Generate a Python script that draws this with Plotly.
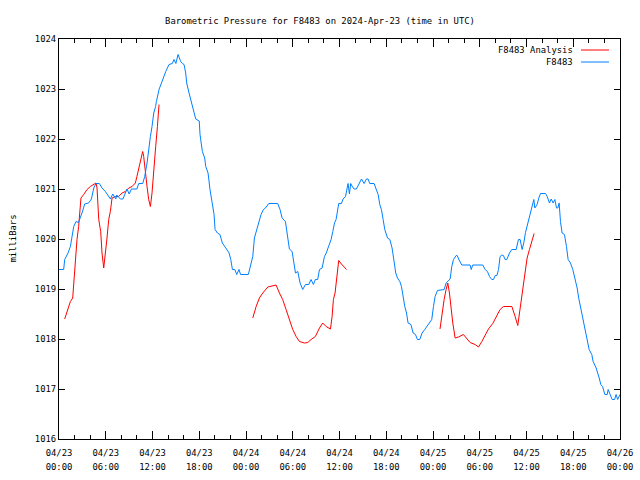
import pandas as pd
import plotly.graph_objects as go

# ---- data (hours since 2024-04-23 00:00 UTC, pressure in mbar) ----
obs_hours = [0.0, 0.6, 0.73, 1.16, 1.46, 1.89, 2.18, 2.5, 2.95, 3.3, 3.8, 4.16, 4.46, 4.75, 5.18, 5.52,
             5.95, 6.38, 6.6, 6.9, 7.3, 7.4, 7.88, 8.2, 8.73, 9.0, 9.3, 10.0, 10.23, 10.75, 11.0, 11.3,
             11.5, 11.73, 11.94, 12.16, 12.4, 12.5, 12.84, 13.27, 13.7, 14.12, 14.55, 14.76, 15.0, 15.28,
             15.62, 15.84, 16.05, 16.26, 16.39, 16.69, 17.0, 17.25, 17.55, 18.0, 18.1, 18.4, 18.7, 18.83,
             19.13, 19.38, 19.69, 19.9, 20.03, 20.33, 20.65, 20.97, 21.4, 21.83, 22.04, 22.26, 22.56, 22.81,
             23.1, 23.3, 24.3, 24.52, 24.87, 25.08, 25.38, 25.64, 25.93, 26.24, 26.5, 26.92, 28.07, 28.37,
             28.63, 29.06, 29.36, 29.57, 29.92, 30.09, 30.35, 30.65, 30.94, 31.28, 31.63, 32.06, 32.35, 32.65,
             32.9, 33.2, 33.43, 33.77, 34.07, 34.3, 34.62, 34.92, 35.14, 35.36, 35.56, 35.78, 35.9, 36.25,
             36.46, 36.77, 36.93, 37.1, 37.27, 37.44, 37.6, 37.87, 38.17, 38.47, 38.82, 39.16, 39.46, 39.67,
             39.88, 40.44, 40.74, 40.96, 41.17, 41.38, 41.6, 41.81, 42.16, 42.46, 42.75, 43.0, 43.22, 43.44,
             43.74, 43.95, 44.17, 44.38, 44.6, 44.8, 45.17, 45.45, 45.75, 46.0, 46.3, 46.6, 46.94, 47.29,
             47.63, 47.84, 48.06, 48.27, 48.57, 49.43, 49.68, 49.94, 50.2, 50.41, 50.63, 50.97, 51.1, 51.35,
             51.69, 52.76, 52.9, 53.1, 54.39, 54.69, 54.99, 55.25, 55.55, 55.76, 55.98, 56.2, 56.41, 56.61,
             56.83, 57.04, 57.25, 57.47, 57.82, 58.12, 58.67, 58.97, 59.18, 59.44, 59.65, 59.87, 60.08, 60.3,
             60.51, 60.72, 60.94, 61.07, 61.36, 61.58, 61.8, 62.44, 62.65, 62.95, 63.17, 63.42, 63.64, 63.85,
             64.02, 64.19, 64.36, 64.57, 64.87, 65.13, 65.34, 65.64, 65.94, 66.2, 66.5, 66.7, 66.97, 67.14,
             67.4, 67.61, 67.83, 68.04, 68.38, 68.55, 68.94, 69.1, 69.33, 69.54, 69.76, 70.06, 70.36, 70.48,
             70.77, 70.99, 71.3, 71.5, 71.7, 72.0]
obs_mbar = [1019.39, 1019.39, 1019.59, 1019.72, 1019.85, 1020.25, 1020.35, 1020.33, 1020.52, 1020.70, 1020.72,
            1020.80, 1021.02, 1021.11, 1021.11, 1021.02, 1020.95, 1020.85, 1020.80, 1020.90, 1020.80, 1020.88,
            1020.80, 1020.80, 1021.00, 1020.90, 1021.00, 1021.00, 1021.11, 1021.11, 1021.25, 1021.52, 1021.79,
            1022.05, 1022.25, 1022.52, 1022.65, 1022.75, 1022.99, 1023.19, 1023.35, 1023.49, 1023.51, 1023.59,
            1023.51, 1023.69, 1023.55, 1023.51, 1023.49, 1023.32, 1023.12, 1022.92, 1022.72, 1022.59, 1022.40,
            1022.36, 1022.09, 1021.75, 1021.62, 1021.45, 1021.32, 1020.99, 1020.72, 1020.49, 1020.19, 1020.12,
            1020.09, 1019.92, 1019.82, 1019.72, 1019.59, 1019.39, 1019.39, 1019.29, 1019.39, 1019.29, 1019.29,
            1019.45, 1019.65, 1020.02, 1020.19, 1020.35, 1020.49, 1020.59, 1020.62, 1020.71, 1020.71, 1020.59,
            1020.42, 1020.35, 1020.05, 1019.80, 1019.75, 1019.55, 1019.32, 1019.35, 1019.12, 1018.99, 1019.09,
            1019.09, 1019.19, 1019.09, 1019.19, 1019.19, 1019.39, 1019.42, 1019.65, 1019.72, 1019.85, 1019.99,
            1020.15, 1020.32, 1020.39, 1020.62, 1020.71, 1020.71, 1020.80, 1020.85, 1020.95, 1021.11, 1020.90,
            1021.11, 1021.06, 1021.00, 1021.00, 1021.11, 1021.20, 1021.11, 1021.20, 1021.20, 1021.11, 1021.11,
            1021.00, 1020.89, 1020.69, 1020.59, 1020.39, 1020.19, 1020.02, 1019.99, 1019.82, 1019.59, 1019.32,
            1019.22, 1019.15, 1019.05, 1018.82, 1018.65, 1018.52, 1018.32, 1018.29, 1018.12, 1018.09, 1017.99,
            1017.99, 1018.12, 1018.19, 1018.27, 1018.35, 1018.39, 1018.65, 1018.85, 1018.97, 1018.99, 1019.12,
            1019.17, 1019.20, 1019.45, 1019.59, 1019.67, 1019.67, 1019.58, 1019.48, 1019.48, 1019.39, 1019.48,
            1019.48, 1019.39, 1019.35, 1019.25, 1019.19, 1019.19, 1019.27, 1019.27, 1019.39, 1019.65, 1019.68,
            1019.67, 1019.59, 1019.59, 1019.72, 1019.79, 1019.79, 1019.99, 1019.99, 1019.79, 1019.92, 1020.13,
            1020.25, 1020.42, 1020.52, 1020.65, 1020.79, 1020.62, 1020.69, 1020.82, 1020.91, 1020.91, 1020.85,
            1020.72, 1020.80, 1020.72, 1020.79, 1020.62, 1020.62, 1020.72, 1020.35, 1020.12, 1020.09, 1019.85,
            1019.59, 1019.52, 1019.39, 1019.22, 1019.02, 1018.82, 1018.62, 1018.45, 1018.29, 1018.09, 1017.92,
            1017.79, 1017.69, 1017.55, 1017.42, 1017.35, 1017.22, 1017.09, 1017.05, 1016.89, 1016.89, 1016.99,
            1016.89, 1016.79, 1016.79, 1016.89, 1016.79, 1016.89]

# analysis runs (None separates runs)
ana_hours = [0.73, 1.03, 1.46, 1.76, 2.02, 2.31, 2.52, 2.82, 3.17, 3.6, 4.02, 4.46, 4.75, 4.88, 5.1, 5.35,
             5.52, 5.74, 5.95, 6.16, 6.38, 6.59, 6.81, 7.23, 7.66, 8.09, 8.52, 8.95, 9.38, 9.8, 10.0, 10.23,
             10.44, 10.74, 10.87, 11.09, 11.3, 11.51, 11.73, 11.94, 12.2, 12.41, 12.63, 12.84,
             None,
             24.87, 25.3, 25.72, 26.15, 26.8, 27.44, 27.86, 28.29, 28.71, 29.14, 29.57, 30.0, 30.43, 30.86,
             31.5, 31.93, 32.35, 32.9, 33.43, 33.85, 34.28, 34.84, 35.05, 35.22, 35.43, 35.61, 35.78, 35.9,
             36.25, 36.6, 36.9,
             None,
             48.9, 49.1, 49.43, 49.68, 49.9, 50.11, 50.28, 50.54, 50.84, 51.27, 51.9, 52.33, 52.76, 53.4,
             53.84, 54.27, 54.69, 55.12, 55.67, 56.2, 56.61, 57.04, 58.12, 58.54, 58.88, 59.1, 59.44, 59.65,
             59.87, 60.08, 60.38, 60.72, 60.98]
ana_mbar = [1018.40, 1018.55, 1018.75, 1018.82, 1019.45, 1019.99, 1020.25, 1020.82, 1020.89, 1020.99, 1021.05,
            1021.09, 1021.12, 1021.02, 1020.39, 1020.15, 1019.72, 1019.42, 1019.69, 1020.02, 1020.39, 1020.55,
            1020.82, 1020.85, 1020.85, 1020.92, 1020.95, 1021.02, 1021.05, 1021.12, 1021.25, 1021.42, 1021.55,
            1021.75, 1021.65, 1021.29, 1021.05, 1020.79, 1020.65, 1020.92, 1021.52, 1021.85, 1022.25, 1022.69,
            None,
            1018.42, 1018.65, 1018.82, 1018.92, 1019.04, 1019.07, 1019.08, 1018.92, 1018.79, 1018.59, 1018.39,
            1018.19, 1018.05, 1017.95, 1017.92, 1017.93, 1017.99, 1018.05, 1018.22, 1018.32, 1018.25, 1018.20,
            1018.45, 1018.79, 1018.92, 1019.19, 1019.40, 1019.57, 1019.50, 1019.44, 1019.39,
            None,
            1018.20, 1018.45, 1018.79, 1018.99, 1019.12, 1018.92, 1018.65, 1018.32, 1018.02, 1018.04, 1018.09,
            1018.02, 1017.93, 1017.89, 1017.84, 1017.95, 1018.09, 1018.20, 1018.31, 1018.47, 1018.59, 1018.65,
            1018.65, 1018.45, 1018.27, 1018.52, 1018.92, 1019.22, 1019.45, 1019.62, 1019.79, 1019.95, 1020.11]

tick_times = ["2024-04-23 00:00", "2024-04-23 06:00", "2024-04-23 12:00", "2024-04-23 18:00",
              "2024-04-24 00:00", "2024-04-24 06:00", "2024-04-24 12:00", "2024-04-24 18:00",
              "2024-04-25 00:00", "2024-04-25 06:00", "2024-04-25 12:00", "2024-04-25 18:00",
              "2024-04-26 00:00"]
tick_dates = ["04/23", "04/23", "04/23", "04/23", "04/24", "04/24", "04/24", "04/24",
              "04/25", "04/25", "04/25", "04/25", "04/26"]
tick_hours = ["00:00", "06:00", "12:00", "18:00", "00:00", "06:00", "12:00", "18:00",
              "00:00", "06:00", "12:00", "18:00", "00:00"]
y_ticks = [1016, 1017, 1018, 1019, 1020, 1021, 1022, 1023, 1024]

series_names = ["F8483 Analysis", "F8483"]
series_colors = ["#ff0000", "#0080ff"]

base = pd.Timestamp("2024-04-23 00:00")


def to_time(hours):
    return [None if h is None else base + pd.Timedelta(hours=h) for h in hours]


FONT = "DejaVu Sans Mono"
FS = 8.9
W, H = 640, 480
ML, MR, MT, MB = 58.5, 20, 39.3, 40.7
PW = W - ML - MR
PH = H - MT - MB

fig = go.Figure()
fig.add_trace(go.Scatter(x=to_time(ana_hours), y=ana_mbar, mode="lines", name=series_names[0],
                         line=dict(color=series_colors[0], width=1), connectgaps=False, showlegend=False))
fig.add_trace(go.Scatter(x=to_time(obs_hours), y=obs_mbar, mode="lines", name=series_names[1],
                         line=dict(color=series_colors[1], width=1), showlegend=False))
# carrier for the second row of x tick labels (hours)
fig.add_trace(go.Scatter(x=[tick_times[0], tick_times[-1]], y=[None, None], xaxis="x2", mode="lines",
                         showlegend=False, hoverinfo="skip"))

# gnuplot-style legend: right-aligned text with line sample on the right
for i, (nm, col) in enumerate(zip(series_names, series_colors)):
    ypos = 1 - (11 + 12 * i) / PH
    fig.add_annotation(xref="paper", yref="paper", x=(575 - ML) / PW, y=ypos, text=nm, showarrow=False,
                       xanchor="right", yanchor="middle", font=dict(family=FONT, size=FS, color="black"))
    fig.add_shape(type="line", xref="paper", yref="paper", x0=(581 - ML) / PW, x1=(609 - ML) / PW,
                  y0=ypos, y1=ypos, line=dict(color=col, width=1))

fig.add_annotation(xref="paper", yref="paper", x=-(ML - 12) / PW, y=0.5, text="milliBars", textangle=-90,
                   showarrow=False, xanchor="center", yanchor="middle",
                   font=dict(family=FONT, size=FS, color="black"))

fig.update_layout(
    width=W, height=H,
    margin=dict(l=ML, r=MR, t=MT, b=MB, pad=0, autoexpand=False),
    paper_bgcolor="white", plot_bgcolor="white",
    font=dict(family=FONT, size=FS, color="black"),
    title=dict(text="Barometric Pressure for F8483 on 2024-Apr-23 (time in UTC)", x=0.5,
               xref="container", y=1 - 20.5 / H, yref="container", xanchor="center", yanchor="middle",
               font=dict(family=FONT, size=FS, color="black")),
    xaxis=dict(range=[tick_times[0], tick_times[-1]], tickmode="array", tickvals=tick_times,
               ticktext=tick_dates, ticks="inside", ticklen=8, tickcolor="black", showline=True,
               linecolor="black", linewidth=1, mirror="ticks", showgrid=False, zeroline=False,
               ticklabelstandoff=5, automargin=False,
               minor=dict(dtick=2 * 3600 * 1000, tick0=tick_times[0], ticks="inside", ticklen=4,
                          tickcolor="black", showgrid=False)),
    xaxis2=dict(range=[tick_times[0], tick_times[-1]], tickmode="array", tickvals=tick_times,
                ticktext=tick_hours, overlaying="x", anchor="y", side="bottom", ticks="", showline=False,
                showgrid=False, zeroline=False, ticklabelstandoff=21, automargin=False),
    yaxis=dict(range=[1016, 1024], tickmode="array", tickvals=y_ticks, ticks="inside", ticklen=6,
               tickcolor="black", showline=True, linecolor="black", linewidth=1, mirror="ticks",
               showgrid=False, zeroline=False, automargin=False),
)

fig.write_html("out.html", config={"displayModeBar": False},
               post_script="document.body.style.margin='0';document.body.style.overflow='hidden';")
